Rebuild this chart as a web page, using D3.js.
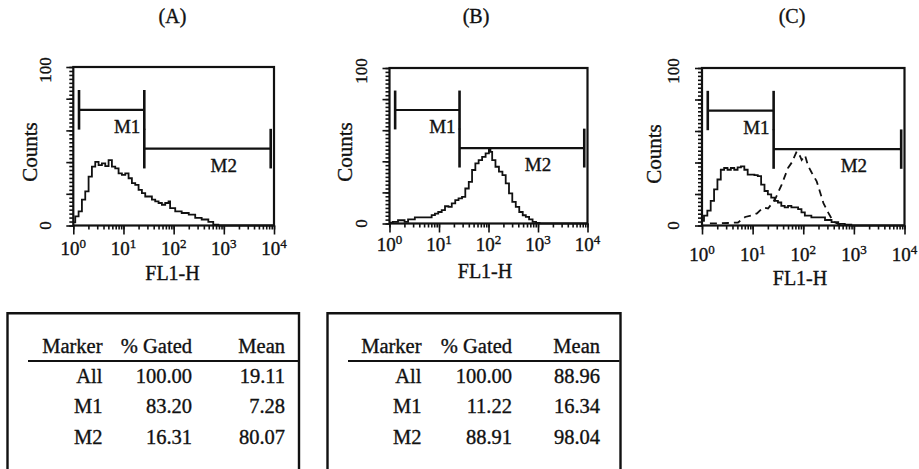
<!DOCTYPE html>
<html>
<head>
<meta charset="utf-8">
<script src="https://cdnjs.cloudflare.com/ajax/libs/d3/7.8.5/d3.min.js"></script>
<style>
  body { margin: 0; background: #fff; }
  svg { display: block; font-family: "Liberation Serif", "Times New Roman", serif; }
  svg text { stroke: #111; stroke-width: 0.35px; }
</style>
</head>
<body>
<script>
// ---- data: histogram = [channel (0-1023, 256 per decade), counts] ----
var panelTitles = ["(A)", "(B)", "(C)"];

var histA = [[0,2],[10,5.8],[27,8.9],[44,16.3],[61,21.5],[78,30.8],[95,37.1],[112,40.2],[129,38.1],
  [146,39.2],[163,37.5],[180,41.3],[197,37.1],[214,36],[231,32.9],[248,31.9],[265,32.9],[282,29.8],
  [299,26.7],[316,25.6],[333,22.5],[350,20.4],[367,18.3],[384,18.3],[401,16.3],[418,15.2],[435,14.2],
  [452,13.1],[469,14.2],[486,15.2],[494,11],[520,8.9],[553,7.9],[589,6.9],[622,4.8],[655,3.8],
  [689,2.3],[714,0.6],[740,0],[1023,0]];

var histB = [[0,0.5],[17,1],[44,2.1],[78,1],[96,2.6],[131,3.9],[183,4],[218,5.4],[235,6.4],[252,7.4],
  [270,8.6],[287,11.1],[305,10.7],[322,12.9],[340,15],[357,16.1],[375,17.1],[392,22.5],[410,26.8],
  [427,34.4],[444,38.7],[461,40.8],[479,42.9],[497,45.1],[514,47.6],[522,46.1],[531,40.8],[548,36.5],
  [566,33.3],[584,31.1],[601,25.8],[618,19.4],[635,13.9],[653,10.7],[671,7.4],[689,5.3],[705,4.3],
  [722,2.6],[740,1],[758,0.4],[776,0],[1023,0]];

var histC = [[0,3],[10,6.3],[27,9.4],[44,15.6],[61,22.9],[78,29.2],[95,35.4],[112,36.5],[129,35.4],
  [146,36.5],[163,35.4],[180,36.9],[197,37.5],[214,35.4],[231,32.3],[248,32.3],[265,32],[282,31.3],
  [299,26],[316,21.9],[333,19.8],[350,17.7],[367,15.6],[384,14.6],[401,12.5],[418,11.5],[435,12.5],
  [452,11.5],[469,11.5],[486,10.4],[503,8.3],[520,6.3],[553,5.2],[589,5.2],[622,3.5],[655,2.1],
  [689,1],[722,0.6],[755,0],[1023,0]];

var histCdash = [[40,1.3],[71,1.3],[132,1.6],[182,1.9],[218,5.4],[248,6.3],[278,7.7],[309,11.4],
  [334,10.8],[369,16.5],[403,26],[435,36.5],[454,40],[479,47],[496,44],[504,41.6],[521,44.5],
  [536,38],[555,33.5],[580,28],[596,21.6],[614,14.2],[639,8],[664,2.4],[689,1],[725,0]];

// gates (fluorescence range) and the count level they are drawn at
var markerNames = ["M1", "M2"];
var markerRanges = [[1.3, 26], [26, 8600]];
var markerLevels = [73, 48.5];

// statistics tables
var statHeaders = ["Marker", "% Gated", "Mean"];
var statRows = ["All", "M1", "M2"];
var gatedA = [100.00, 83.20, 16.31];
var meanA = [19.11, 7.28, 80.07];
var gatedB = [100.00, 11.22, 88.91];
var meanB = [88.96, 16.34, 98.04];

// ---- layout ----
var W = 919, H = 469, ink = "#111";
var svg = d3.select("body").append("svg").attr("width", W).attr("height", H);

var layouts = [
  {x0: 73.3, x1: 274, y0: 67, y1: 225.5, tx: 172.5, tickBase: 255, labX: 172.5, labY: 280, cx: 30, cy: 152},
  {x0: 389.5, x1: 587.5, y0: 68, y1: 223.5, tx: 476, tickBase: 251, labX: 485, labY: 278, cx: 345, cy: 152},
  {x0: 702, x1: 904.5, y0: 68, y1: 225.5, tx: 792, tickBase: 261, labX: 800, labY: 285, cx: 654, cy: 154}
];

function drawPanel(L, title, solid, dashed) {
  var g = svg.append("g");
  var x = d3.scaleLog().domain([1, 1e4]).range([L.x0, L.x1]);
  var y = d3.scaleLinear().domain([0, 100]).range([L.y1, L.y0]);
  var fx = function(c) { return x(Math.pow(10, c / 256)); };

  g.append("text").attr("x", L.tx).attr("y", 23).attr("text-anchor", "middle")
    .attr("font-size", 20).attr("fill", ink).text(title);

  // x axis ticks
  var xa = g.append("g").attr("transform", "translate(0," + L.y1 + ")");
  xa.append("g").call(d3.axisBottom(x).tickValues(x.ticks()).tickSize(4).tickFormat(""));
  xa.append("g").call(d3.axisBottom(x).tickValues([1, 10, 100, 1000, 10000]).tickSize(9).tickFormat(""));
  xa.selectAll(".domain").remove();
  xa.selectAll(".tick line").attr("stroke", ink).attr("stroke-width", 1.6);

  // y axis ticks
  var ya = g.append("g").attr("transform", "translate(" + L.x0 + ",0)");
  ya.append("g").call(d3.axisLeft(y).tickValues(d3.range(0, 100.01, 2.5)).tickSize(4).tickFormat(""));
  ya.append("g").call(d3.axisLeft(y).tickValues(d3.range(0, 101, 20)).tickSize(7).tickFormat(""));
  ya.selectAll(".domain").remove();
  ya.selectAll(".tick line").attr("stroke", ink).attr("stroke-width", 1.6);

  // x tick labels 10^n
  g.selectAll(".xl").data([0, 1, 2, 3, 4]).join("text")
    .attr("x", function(d) { return x(Math.pow(10, d)); })
    .attr("y", L.tickBase).attr("text-anchor", "middle").attr("font-size", 19).attr("fill", ink)
    .each(function(d) {
      var t = d3.select(this);
      t.append("tspan").text("10");
      t.append("tspan").attr("dy", -7).attr("font-size", 13).text(d);
    });

  // y tick labels (rotated)
  g.selectAll(".yl").data([0, 100]).join("text")
    .attr("transform", function(d) { return "translate(" + (L.x0 - 28.5) + "," + (y(d) + (d ? 3 : 0)) + ") rotate(-90)"; })
    .attr("text-anchor", "middle").attr("dy", "0.35em").attr("font-size", 17).attr("fill", ink)
    .text(function(d) { return d; });

  g.append("text").attr("transform", "translate(" + L.cx + "," + L.cy + ") rotate(-90)")
    .attr("text-anchor", "middle").attr("dy", "0.35em").attr("font-size", 21).attr("fill", ink).text("Counts");
  g.append("text").attr("x", L.labX).attr("y", L.labY).attr("text-anchor", "middle")
    .attr("font-size", 20).attr("fill", ink).text("FL1-H");

  // histograms
  var step = d3.line().x(function(d) { return fx(d[0]); }).y(function(d) { return y(d[1]); }).curve(d3.curveStepAfter);
  if (dashed) {
    var lin = d3.line().x(function(d) { return fx(d[0]); }).y(function(d) { return y(d[1]); });
    g.append("path").datum(dashed).attr("d", lin).attr("fill", "none").attr("stroke", ink)
      .attr("stroke-width", 1.8).attr("stroke-dasharray", "7,5");
  }
  g.append("path").datum(solid).attr("d", step).attr("fill", "none").attr("stroke", ink)
    .attr("stroke-width", 1.8).attr("stroke-linejoin", "miter");

  // gate markers
  markerNames.forEach(function(name, i) {
    var r = markerRanges[i], yy = y(markerLevels[i]), h = y(0) - y(12.5);
    var m = g.append("g").attr("stroke", ink).attr("stroke-width", 2.2);
    m.append("line").attr("x1", x(r[0])).attr("x2", x(r[1])).attr("y1", yy).attr("y2", yy);
    r.forEach(function(v) {
      m.append("line").attr("x1", x(v)).attr("x2", x(v)).attr("y1", yy - h).attr("y2", yy + h).attr("stroke-width", 2.6);
    });
    var lab = g.append("text").attr("font-size", 19).attr("fill", ink).text(name).attr("y", yy + 23);
    if (i === 0) lab.attr("x", x(r[1]) - 4).attr("text-anchor", "end");
    else lab.attr("x", x(1000)).attr("text-anchor", "middle");
  });

  // frame
  g.append("rect").attr("x", L.x0).attr("y", L.y0).attr("width", L.x1 - L.x0).attr("height", L.y1 - L.y0)
    .attr("fill", "none").attr("stroke", ink).attr("stroke-width", 2.2);
}

drawPanel(layouts[0], panelTitles[0], histA);
drawPanel(layouts[1], panelTitles[1], histB);
drawPanel(layouts[2], panelTitles[2], histC, histCdash);

// ---- tables ----
var tables = [
  {left: 7.5, right: 299, cols: [102.5, 192, 285], gated: gatedA, mean: meanA},
  {left: 327.5, right: 620.5, cols: [421.5, 512, 600], gated: gatedB, mean: meanB}
];
var fmt = d3.format(".2f");
var rowY = [383, 413, 444];

tables.forEach(function(T) {
  var g = svg.append("g").attr("font-size", 20.5).attr("fill", ink);
  g.append("path")
    .attr("d", "M" + T.left + "," + (H + 5) + "V313.3H" + T.right + "V" + (H + 5))
    .attr("fill", "none").attr("stroke", ink).attr("stroke-width", 2.4);
  g.append("line").attr("x1", T.left + 20.5).attr("x2", T.right - 1).attr("y1", 361).attr("y2", 361)
    .attr("stroke", ink).attr("stroke-width", 2.2);
  g.selectAll(".h").data(statHeaders).join("text")
    .attr("x", function(d, i) { return T.cols[i]; }).attr("y", 353.3).attr("text-anchor", "end")
    .text(function(d) { return d; });
  statRows.forEach(function(r, i) {
    var vals = [r, fmt(T.gated[i]), fmt(T.mean[i])];
    g.selectAll(".r" + i).data(vals).join("text")
      .attr("x", function(d, j) { return T.cols[j]; }).attr("y", rowY[i]).attr("text-anchor", "end")
      .text(function(d) { return d; });
  });
});
</script>
</body>
</html>
